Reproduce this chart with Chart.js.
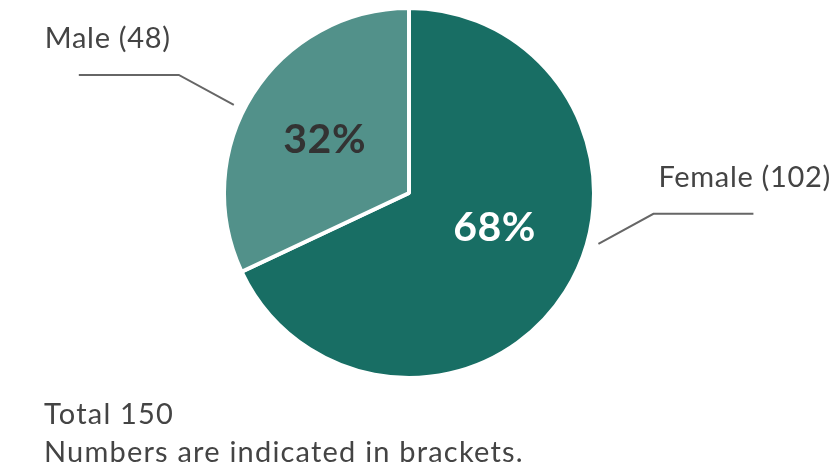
<!DOCTYPE html>
<html>
<head>
<meta charset="utf-8">
<script src="https://cdn.jsdelivr.net/npm/chart.js@4/dist/chart.umd.min.js"></script>
<style>
  html, body { margin: 0; padding: 0; background: #fff; }
  #wrap { position: relative; width: 831px; height: 470px; }
  #note { position: absolute; left: 44px; top: 394px; font-family: Lato, sans-serif; font-size: 29px; line-height: 38px; letter-spacing: 1.2px; color: #444; }
</style>
</head>
<body>
<div id="wrap">
  <canvas id="pie"></canvas>
  <div id="note"></div>
</div>
<script>
// --- DATA ---
const categories = ['Female', 'Male'];
const counts = [102, 48];
const colours = ['#186e64', '#52918a'];
const pctColours = ['#ffffff', '#333333'];

const total = counts.reduce((a, b) => a + b, 0);
document.getElementById('note').innerHTML = 'Total ' + total + '<br>Numbers are indicated in brackets.';

// label placement per slice: angle nudge (deg) and radius fraction for the %,
// and leader line / caption layout
const labelCfg = [
  { pctNudge: -10, pctR: 0.5, lineAng: 15, side: 1 },
  { pctNudge: 0, pctR: 0.54, lineAng: 206.7, side: -1 }
];

const sliceLabels = {
  id: 'sliceLabels',
  afterDatasetsDraw(chart) {
    const ctx = chart.ctx;
    const arcs = chart.getDatasetMeta(0).data;
    ctx.save();
    arcs.forEach((arc, i) => {
      const { x, y, startAngle, endAngle, outerRadius } = arc.getProps(['x', 'y', 'startAngle', 'endAngle', 'outerRadius'], true);
      const cfg = labelCfg[i];
      // percentage inside slice
      const mid = (startAngle + endAngle) / 2 + cfg.pctNudge * Math.PI / 180;
      const pct = Math.round(counts[i] / total * 100) + '%';
      ctx.font = 'bold 41px Lato, sans-serif';
      ctx.letterSpacing = '0.5px';
      ctx.fillStyle = pctColours[i];
      ctx.textAlign = 'center';
      ctx.textBaseline = 'middle';
      ctx.fillText(pct, x + Math.cos(mid) * outerRadius * cfg.pctR, y + Math.sin(mid) * outerRadius * cfg.pctR);

      // leader line
      const a = cfg.lineAng * Math.PI / 180;
      const r0 = outerRadius * 1.06;
      const p0x = x + Math.cos(a) * r0, p0y = y + Math.sin(a) * r0;
      const ex = p0x + cfg.side * 55;
      const ey = p0y - 30;
      const tx = ex + cfg.side * 100;
      ctx.strokeStyle = '#666';
      ctx.lineWidth = 2;
      ctx.beginPath();
      ctx.moveTo(p0x, p0y);
      ctx.lineTo(ex, ey);
      ctx.lineTo(tx, ey);
      ctx.stroke();

      // caption
      ctx.font = '29px Lato, sans-serif';
      ctx.letterSpacing = '0.7px';
      ctx.fillStyle = '#444';
      ctx.textBaseline = 'alphabetic';
      ctx.textAlign = 'left';
      const caption = categories[i] + ' (' + counts[i] + ')';
      const cx = cfg.side > 0 ? ex + 5 : tx - 34;
      ctx.fillText(caption, cx, ey - 27);
    });
    ctx.restore();
  }
};

new Chart(document.getElementById('pie'), {
  type: 'pie',
  data: {
    labels: categories,
    datasets: [{
      data: counts,
      backgroundColor: colours,
      borderColor: '#ffffff',
      borderWidth: 4,
      hoverOffset: 0
    }]
  },
  options: {
    responsive: true,
    maintainAspectRatio: false,
    animation: false,
    layout: { padding: { top: 6, bottom: 90, left: 0, right: 13 } },
    plugins: { legend: { display: false }, tooltip: { enabled: false } }
  },
  plugins: [sliceLabels]
});
</script>
</body>
</html>
